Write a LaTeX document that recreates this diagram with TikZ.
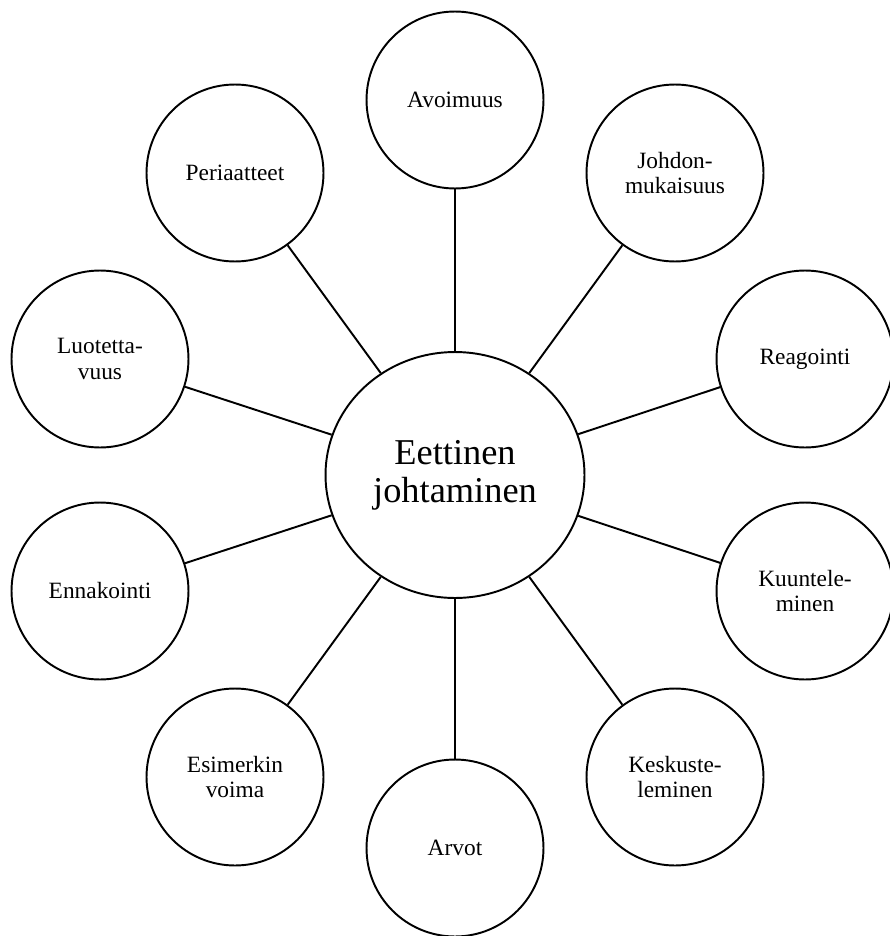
\documentclass[tikz,border=0pt]{standalone}
\usepackage{fontspec}
\setmainfont{Liberation Serif}
\usetikzlibrary{shapes.geometric}
\definecolor{ink}{HTML}{000000}

\begin{document}
\begin{tikzpicture}[x=0.02cm,y=-0.02cm,
    spoke/.style={draw=ink,line width=1.1pt},
    topic/.style={circle,draw=ink,line width=1.1pt,minimum size=3.54cm,inner sep=0pt,
      align=center,font=\fontsize{13.3}{14.5}\selectfont}]
    % bbox in pixel units of the sheet
    \useasboundingbox (0,0) rectangle (889,936);

    % hub in the middle
    \node[ellipse,draw=ink,line width=1.1pt,minimum width=5.18cm,minimum height=4.92cm,
      inner sep=0pt,align=center,font=\fontsize{20.7}{21.5}\selectfont]
      (hub) at (455,475) {Eettinen\\johtaminen};

    % topics round the hub, clockwise from the top
    \foreach \name/\px/\py/\lbl in {
        avoimuus/455/100/Avoimuus,
        johdon/675/173/{Johdon-\\mukaisuus},
        reagointi/805/359/Reagointi,
        kuuntelu/805/591/{Kuuntele-\\minen},
        keskustelu/675/777/{Keskuste-\\leminen},
        arvot/455/848/Arvot,
        esimerkki/235/777/{Esimerkin\\voima},
        ennakointi/100/591/Ennakointi,
        luotettavuus/100/359/{Luotetta-\\vuus},
        periaatteet/235/173/Periaatteet} {
      \node[topic] (\name) at (\px,\py) {\lbl};
      \draw[spoke] (hub) -- (\name);
    }
  \end{tikzpicture}
\end{document}
